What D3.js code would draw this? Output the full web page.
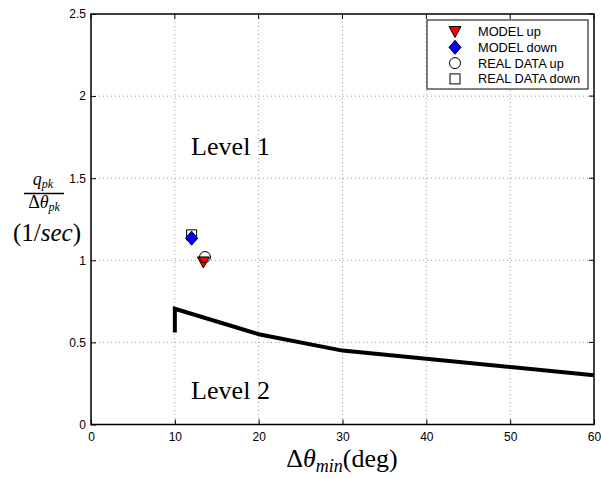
<!doctype html>
<html>
<head>
<meta charset="utf-8">
<script src="https://d3js.org/d3.v7.min.js"></script>
<style>
  body { margin: 0; padding: 0; background: #fff; }
  .sans { font-family: "Liberation Sans", Arial, sans-serif; }
  .serif { font-family: "Liberation Serif", "Times New Roman", serif; }
  .grid line { stroke: #999; stroke-dasharray: 1,3; stroke-width: 1; }
</style>
</head>
<body>
<div id="chart"></div>
<script>
// boundary between level 1 and level 2
var boundaryX = [10, 10, 20, 30, 60];
var boundaryY = [0.56, 0.705, 0.55, 0.45, 0.30];

// measured points
var modelUp = [[13.4, 0.99]];
var modelDown = [[12.0, 1.135]];
var realUp = [[13.6, 1.02]];
var realDown = [[12.0, 1.155]];

var xTicks = [0, 10, 20, 30, 40, 50, 60];
var yTicks = [0, 0.5, 1, 1.5, 2, 2.5];
var legendLabels = ["MODEL up", "MODEL down", "REAL DATA up", "REAL DATA down"];

var W = 601, H = 478;
var margin = {top: 14, right: 7, bottom: 53.5, left: 91};
var pw = W - margin.left - margin.right,
    ph = H - margin.top - margin.bottom;

var svg = d3.select("#chart").append("svg")
    .attr("width", W).attr("height", H);
var plot = svg.append("g")
    .attr("transform", "translate(" + margin.left + "," + margin.top + ")");

var x = d3.scaleLinear().domain([0, 60]).range([0, pw]);
var y = d3.scaleLinear().domain([0, 2.5]).range([ph, 0]);

// grid
var grid = plot.append("g").attr("class", "grid");
grid.selectAll(".gx").data(xTicks.slice(1, -1)).enter().append("line")
    .attr("x1", d => x(d)).attr("x2", d => x(d)).attr("y1", 0).attr("y2", ph);
grid.selectAll(".gy").data(yTicks.slice(1, -1)).enter().append("line")
    .attr("y1", d => y(d)).attr("y2", d => y(d)).attr("x1", 0).attr("x2", pw);

// axes
var xAxis = plot.append("g").attr("transform", "translate(0," + ph + ")")
    .call(d3.axisBottom(x).tickValues(xTicks).tickSize(-5).tickPadding(8).tickFormat(d3.format("d")));
var yAxis = plot.append("g")
    .call(d3.axisLeft(y).tickValues(yTicks).tickSize(-5).tickPadding(5).tickFormat(d => d));
[xAxis, yAxis].forEach(function(a) {
  a.select(".domain").remove();
  a.attr("font-family", null);
  a.selectAll("text").attr("font-size", 12).attr("fill", "#000").attr("class", "sans");
  a.selectAll("line").attr("stroke", "#000");
});
// top/right ticks
plot.selectAll(".tt").data(xTicks).enter().append("line")
    .attr("x1", d => x(d)).attr("x2", d => x(d)).attr("y1", 0).attr("y2", 5).attr("stroke", "#000");
plot.selectAll(".rt").data(yTicks).enter().append("line")
    .attr("y1", d => y(d)).attr("y2", d => y(d)).attr("x1", pw).attr("x2", pw - 5).attr("stroke", "#000");

plot.append("rect").attr("width", pw).attr("height", ph)
    .attr("fill", "none").attr("stroke", "#000").attr("stroke-width", 1.5);

// boundary line
var line = d3.line().x(d => x(d[0])).y(d => y(d[1]));
plot.append("path")
    .datum(boundaryX.map((v, i) => [v, boundaryY[i]]))
    .attr("d", line).attr("fill", "none").attr("stroke", "#000")
    .attr("stroke-width", 4).attr("stroke-linejoin", "miter");

// markers
var sym = {
  tri: "M-6,-5L6,-5L0,6Z",
  dia: "M0,-7L6,0L0,7L-6,0Z"
};
function drawMarker(g, kind) {
  if (kind === "realDown") {
    g.append("rect").attr("x", -5).attr("y", -5).attr("width", 10).attr("height", 10)
      .attr("fill", "none").attr("stroke", "#000");
  } else if (kind === "realUp") {
    g.append("circle").attr("r", 5.5).attr("fill", "none").attr("stroke", "#000");
  } else if (kind === "modelUp") {
    g.append("path").attr("d", sym.tri).attr("fill", "#ff0000").attr("stroke", "#000");
  } else {
    g.append("path").attr("d", sym.dia).attr("fill", "#0000ff").attr("stroke", "#000");
  }
}
[["realDown", realDown], ["modelDown", modelDown], ["modelUp", modelUp], ["realUp", realUp]]
  .forEach(function(s) {
    s[1].forEach(function(p) {
      drawMarker(plot.append("g").attr("transform", "translate(" + x(p[0]) + "," + y(p[1]) + ")"), s[0]);
    });
  });

// level labels
svg.append("text").attr("class", "serif").attr("x", 191).attr("y", 154.5)
  .attr("font-size", 26).attr("textLength", 79).text("Level 1");
svg.append("text").attr("class", "serif").attr("x", 191).attr("y", 399)
  .attr("font-size", 26).attr("textLength", 79).text("Level 2");

// legend
var lg = svg.append("g").attr("transform", "translate(427,20)");
lg.append("rect").attr("width", 161).attr("height", 69)
  .attr("fill", "#fff").attr("stroke", "#000");
var kinds = ["modelUp", "modelDown", "realUp", "realDown"];
legendLabels.forEach(function(l, i) {
  var row = lg.append("g").attr("transform", "translate(28," + (11.5 + i * 15.8) + ")");
  drawMarker(row, kinds[i]);
  row.append("text").attr("class", "sans").attr("x", 23).attr("y", 4.5)
    .attr("font-size", 12.8).text(l);
});

// axis titles
var xt = svg.append("text").attr("class", "serif").attr("x", 342).attr("y", 467)
  .attr("text-anchor", "middle").attr("font-size", 26);
xt.append("tspan").text("Δ");
xt.append("tspan").attr("font-style", "italic").text("θ");
xt.append("tspan").attr("font-style", "italic").attr("font-size", 18).attr("dy", 5).text("min");
xt.append("tspan").attr("dy", -5).text("(deg)");

var num = svg.append("text").attr("class", "serif").attr("x", 43).attr("y", 185)
  .attr("text-anchor", "middle").attr("font-size", 18).attr("font-style", "italic");
num.append("tspan").text("q");
num.append("tspan").attr("font-size", 12).attr("dy", 3).text("pk");
svg.append("line").attr("x1", 24).attr("x2", 64).attr("y1", 193.5).attr("y2", 193.5)
  .attr("stroke", "#000").attr("stroke-width", 1.5);
var den = svg.append("text").attr("class", "serif").attr("x", 44).attr("y", 208)
  .attr("text-anchor", "middle").attr("font-size", 18);
den.append("tspan").text("Δ");
den.append("tspan").attr("font-style", "italic").text("θ");
den.append("tspan").attr("font-style", "italic").attr("font-size", 12).attr("dy", 3).text("pk");
var unit = svg.append("text").attr("class", "serif").attr("x", 47).attr("y", 241)
  .attr("text-anchor", "middle").attr("font-size", 25);
unit.append("tspan").text("(1/");
unit.append("tspan").attr("font-style", "italic").text("sec");
unit.append("tspan").text(")");
</script>
</body>
</html>
